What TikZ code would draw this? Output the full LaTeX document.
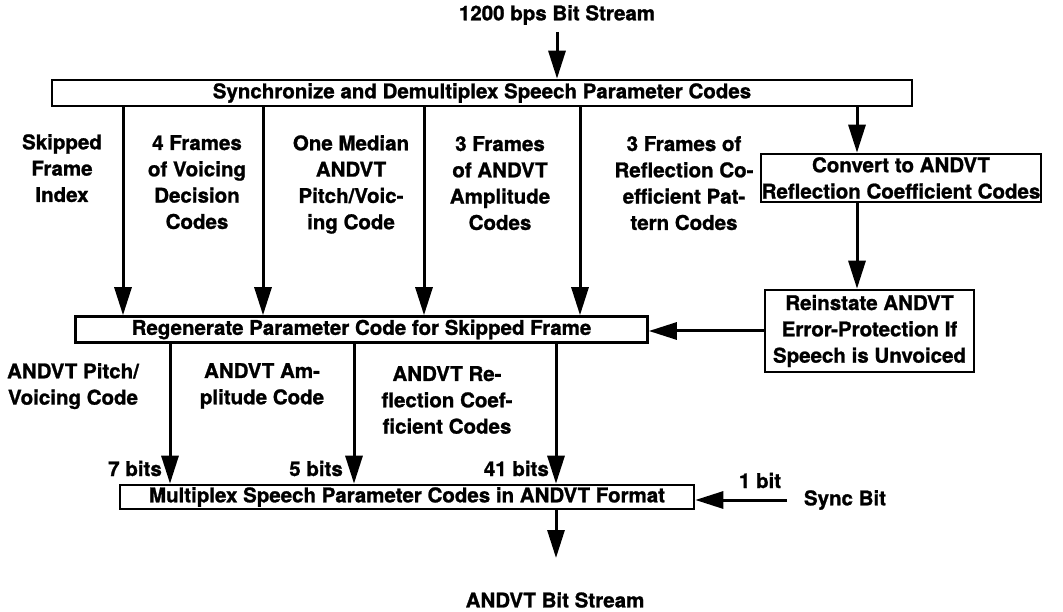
\documentclass[tikz,border=0pt]{standalone}
\usepackage{fontspec}
\setmainfont{TeX Gyre Heros}[BoldFeatures={FakeBold=1.2,FakeStretch=1.01}]
\usetikzlibrary{arrows.meta}
\begin{document}
\begin{tikzpicture}[x=1pt,y=-1pt,
  every node/.style={font=\fontsize{20.3}{26.3}\selectfont\bfseries, inner sep=0pt},
  box/.style={draw, line width=2.6pt, inner sep=0pt, align=center},
  lbl/.style={align=center, anchor=north},
  arr/.style={line width=3pt, -{Triangle[width=17pt,length=28pt]}},
  ]
\useasboundingbox (0,0) rectangle (1063,612);
% boxes
\node[box, minimum width=860pt, minimum height=26pt] (sync) at (482,93) {Synchronize and Demultiplex Speech Parameter Codes};
\node[box, minimum width=572pt, minimum height=26pt] (regen) at (361.5,329.5) {Regenerate Parameter Code for Skipped Frame};
\node[box, minimum width=574pt, minimum height=24pt] (mux) at (407,497) {Multiplex Speech Parameter Codes in ANDVT Format};
\node[box, minimum width=280pt, minimum height=48pt] (conv) at (901,178) {Convert to ANDVT\\Reflection Coefficient Codes};
\node[box, minimum width=209pt, minimum height=82pt] (rein) at (869.5,331) {Reinstate ANDVT\\Error-Protection If\\Speech is Unvoiced};
% texts
\node (top) at (557,15) {1200 bps Bit Stream};
\node (out) at (555,600) {ANDVT Bit Stream};
\node (syncbit) at (845,500) {Sync Bit};
\node[anchor=base] (onebit) at (760,488) {1 bit};
\node[anchor=base east] (b7) at (162,476) {7 bits};
\node[anchor=base east] (b5) at (343,476) {5 bits};
\node[anchor=base east] (b41) at (549,476) {41 bits};
\node[lbl] (l1) at (62,134) {Skipped\\Frame\\Index};
\node[lbl] (l2) at (197,135) {4 Frames\\of Voicing\\Decision\\Codes};
\node[lbl] (l3) at (351,135) {One Median\\ANDVT\\Pitch/Voic-\\ing Code};
\node[lbl] (l4) at (500,136) {3 Frames\\of ANDVT\\Amplitude\\Codes};
\node[lbl] (l5) at (684,136) {3 Frames of\\Reflection Co-\\efficient Pat-\\tern Codes};
\node[lbl] (m1) at (73,363) {ANDVT Pitch/\\Voicing Code};
\node[lbl] (m2) at (262,363) {ANDVT Am-\\plitude Code};
\node[lbl] (m3) at (447,366) {ANDVT Re-\\flection Coef-\\ficient Codes};
% column coordinates
\coordinate (x1) at (123,0);
\coordinate (x2) at (263,0);
\coordinate (x3) at (424,0);
\coordinate (x4) at (580,0);
\coordinate (x5) at (857,0);
\coordinate (y1) at (170,0);
\coordinate (y2) at (354,0);
\coordinate (y3) at (556,0);
\coordinate (outend) at (556,558);
\coordinate (topstart) at (557,32);
\coordinate (syncstart) at (787,500);
% connectors
\draw[arr] (topstart) -- (sync.north -| topstart);
\foreach \c in {x1,x2,x3,x4}{
  \draw[arr] (sync.south -| \c) -- (regen.north -| \c);
}
\draw[arr] (sync.south -| x5) -- (conv.north -| x5);
\draw[arr] (conv.south -| x5) -- (rein.north -| x5);
\draw[arr] (rein.west) -- (rein.west -| regen.east);
\foreach \c in {y1,y2,y3}{
  \draw[arr] (regen.south -| \c) -- (mux.north -| \c);
}
\draw[arr] (syncstart) -- (syncstart -| mux.east);
\draw[arr] (mux.south -| outend) -- (outend);
\end{tikzpicture}
\end{document}
